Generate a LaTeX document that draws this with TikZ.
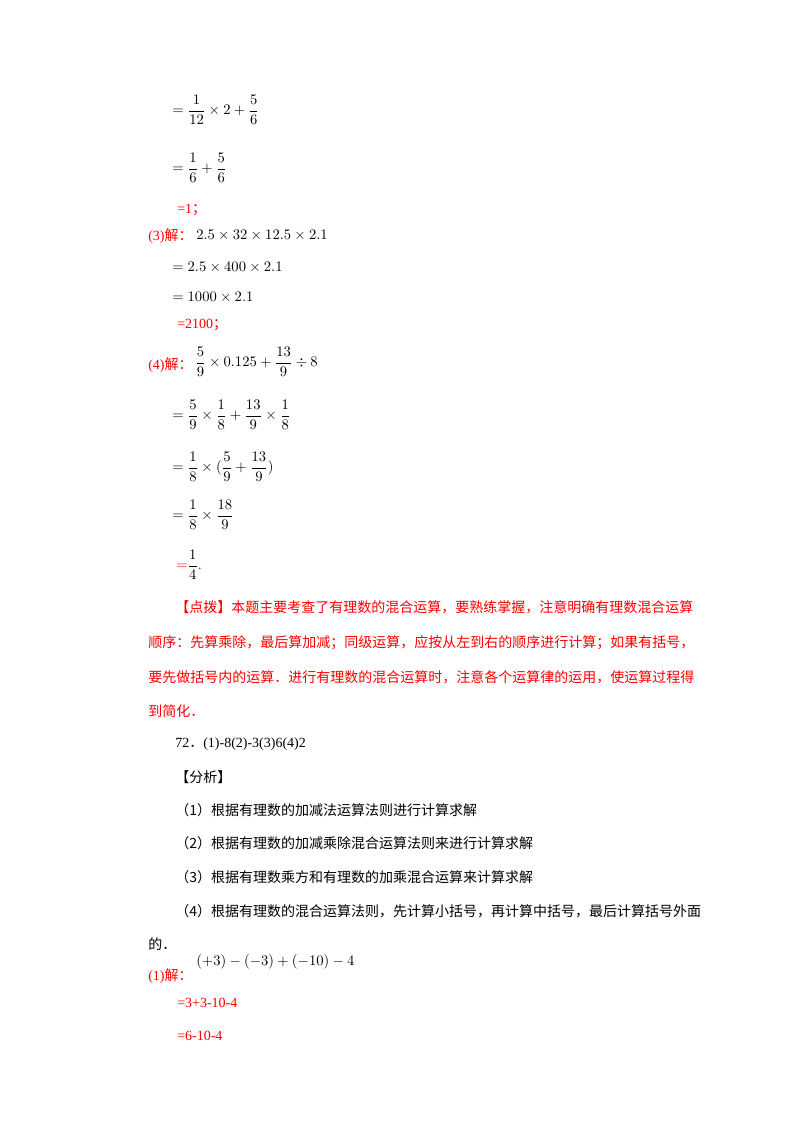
\documentclass[tikz,border=0pt]{standalone}
\usepackage{amsmath}
\usepackage{fontspec}
\setmainfont{Liberation Serif}
\newfontfamily\cjk{Noto Sans CJK SC}
\definecolor{rd}{HTML}{FF0000}
\begin{document}
\begin{tikzpicture}[x=0.75pt,y=-0.75pt,
  t/.style={anchor=west,inner sep=0pt,font=\fontsize{10.5}{12}\selectfont},
  r/.style={t,text=rd}]
\useasboundingbox (0,0) rectangle (800,1132);
\node[t] (a1) at (172,110) {$=\dfrac{1}{12}\times 2+\dfrac{5}{6}$};
\node[t] (a2) at (172,168) {$=\dfrac{1}{6}+\dfrac{5}{6}$};
\node[r] (a3) at (177,210) {=1{\cjk ；}};
\node[r] (b0) at (148,236) {(3){\cjk 解：}};
\node[t] (b1) at (196,235) {$2.5\times32\times12.5\times2.1$};
\node[t] (b2) at (172,267) {$=2.5\times400\times2.1$};
\node[t] (b3) at (172,297) {$=1000\times2.1$};
\node[r] (b4) at (177,325) {=2100{\cjk ；}};
\node[r] (c0) at (148,365) {(4){\cjk 解：}};
\node[t] (c1) at (195,362) {$\dfrac{5}{9}\times0.125+\dfrac{13}{9}\div8$};
\node[t] (c2) at (172,415) {$=\dfrac{5}{9}\times\dfrac{1}{8}+\dfrac{13}{9}\times\dfrac{1}{8}$};
\node[t] (c3) at (172,467) {$=\dfrac{1}{8}\times(\dfrac{5}{9}+\dfrac{13}{9})$};
\node[t] (c4) at (172,515) {$=\dfrac{1}{8}\times\dfrac{18}{9}$};
\node[t] (c5) at (176,565) {$\textcolor{rd}{=}\dfrac{1}{4}$\textcolor{rd}{.}};
\node[r] (d1) at (175,607) {\cjk 【点拨】本题主要考查了有理数的混合运算，要熟练掌握，注意明确有理数混合运算};
\node[r] (d2) at (148,643) {\cjk 顺序：先算乘除，最后算加减；同级运算，应按从左到右的顺序进行计算；如果有括号，};
\node[r] (d3) at (148,677) {\cjk 要先做括号内的运算．进行有理数的混合运算时，注意各个运算律的运用，使运算过程得};
\node[r] (d4) at (148,711) {\cjk 到简化．};
\node[t] (e1) at (175,744) {72{\cjk ．}(1)-8(2)-3(3)6(4)2};
\node[t] (e2) at (175,777) {\cjk 【分析】};
\node[t] (f1) at (175,810) {\cjk （1）根据有理数的加减法运算法则进行计算求解};
\node[t] (f2) at (175,843) {\cjk （2）根据有理数的加减乘除混合运算法则来进行计算求解};
\node[t] (f3) at (175,877) {\cjk （3）根据有理数乘方和有理数的加乘混合运算来计算求解};
\node[t] (f4) at (175,911) {\cjk （4）根据有理数的混合运算法则，先计算小括号，再计算中括号，最后计算括号外面};
\node[t] (f5) at (148,944) {\cjk 的．};
\node[r] (g0) at (148,976) {(1){\cjk 解：}};
\node[t] (g1) at (196,962) {$(+3)-(-3)+(-10)-4$};
\node[r] (g2) at (177,1003) {=3+3-10-4};
\node[r] (g3) at (177,1036) {=6-10-4};
\end{tikzpicture}
\end{document}
